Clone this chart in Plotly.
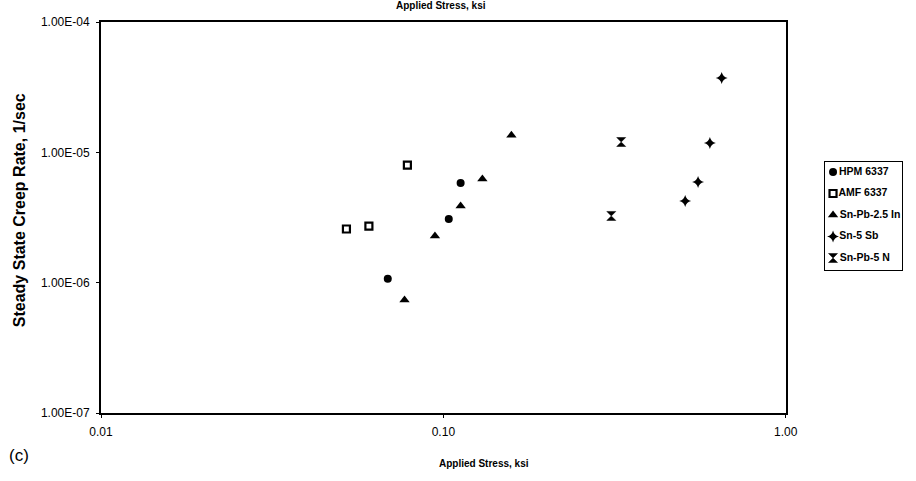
import plotly.graph_objects as go

# ---- data -------------------------------------------------------------
series_names = ["HPM 6337", "AMF 6337", "Sn-Pb-2.5 In", "Sn-5 Sb", "Sn-Pb-5 N"]

hpm_stress = [0.0688, 0.1037, 0.1123]
hpm_rate = [1.07e-6, 3.08e-6, 5.82e-6]

amf_stress = [0.0521, 0.0606, 0.0785]
amf_rate = [2.58e-6, 2.72e-6, 7.99e-6]

snpb25in_stress = [0.0770, 0.0945, 0.1123, 0.130, 0.158]
snpb25in_rate = [7.36e-7, 2.28e-6, 3.88e-6, 6.24e-6, 1.35e-5]

sn5sb_stress = [0.5085, 0.5545, 0.6004, 0.650]
sn5sb_rate = [4.23e-6, 5.92e-6, 1.18e-5, 3.72e-5]

snpb5n_stress = [0.3094, 0.3307]
snpb5n_rate = [3.25e-6, 1.20e-5]

x_tickvals = [0.01, 0.1, 1.0]
x_ticktext = ["0.01", "0.10", "1.00"]
y_tickvals = [1e-4, 1e-5, 1e-6, 1e-7]
y_ticktext = ["1.00E-04", "1.00E-05", "1.00E-06", "1.00E-07"]

# ---- layout geometry (pixels) ----------------------------------------
W, H = 916, 481
ML, MR, MT, MB = 101, 2, 22, 68
PW = W - ML - MR          # paper width
PH = H - MT - MB          # paper height
PLOT_RIGHT = 796          # right edge of the data frame


def px_x(px):
    return (px - ML) / PW


def px_y(py):
    return (H - MB - py) / PH


FONT = "Liberation Sans, Arial, sans-serif"
BLACK = "#000000"

styles = [
    dict(symbol="circle", size=8, color=BLACK),
    dict(symbol="square-open", size=7, color=BLACK, line=dict(width=2.2, color=BLACK)),
    dict(symbol="triangle-up", size=9, color=BLACK),
    dict(symbol="star-diamond", size=8.5, color=BLACK),
    dict(symbol="hourglass", size=9, color=BLACK, line=dict(width=0.5, color=BLACK)),
]

series = [
    (hpm_stress, hpm_rate),
    (amf_stress, amf_rate),
    (snpb25in_stress, snpb25in_rate),
    (sn5sb_stress, sn5sb_rate),
    (snpb5n_stress, snpb5n_rate),
]

fig = go.Figure()

for name, (xs, ys), st in zip(series_names, series, styles):
    fig.add_trace(go.Scatter(
        x=xs, y=ys, mode="markers", name=name,
        marker=st, showlegend=False, cliponaxis=False,
        xaxis="x", yaxis="y",
    ))

# boxed key drawn on its own small axes
for i, (name, st) in enumerate(zip(series_names, styles)):
    fig.add_trace(go.Scatter(
        x=[8], y=[i], mode="markers+text", text=[name],
        textposition="middle right",
        textfont=dict(family=FONT, size=10.5, color=BLACK, weight="bold"),
        marker=st, showlegend=False, hoverinfo="skip",
        xaxis="x2", yaxis="y2", cliponaxis=False,
    ))

axis_common = dict(
    showline=True, linecolor=BLACK, linewidth=2, mirror=True,
    showgrid=False, zeroline=False, ticks="outside", ticklen=3,
    tickcolor=BLACK, tickfont=dict(family=FONT, size=12, color=BLACK),
)

legend_top, legend_bottom = 162, 270
row0, row_gap = 172, 21.5

fig.update_layout(
    width=W, height=H,
    margin=dict(l=ML, r=MR, t=MT, b=MB, pad=0),
    paper_bgcolor="white", plot_bgcolor="white",
    xaxis=dict(type="log", range=[-2, 0], domain=[0, px_x(PLOT_RIGHT)],
               tickvals=x_tickvals, ticktext=x_ticktext,
               ticklabelstandoff=4, anchor="y", **axis_common),
    yaxis=dict(type="log", range=[-7, -4], domain=[0, 1],
               tickvals=y_tickvals, ticktext=y_ticktext,
               ticklabelstandoff=4, anchor="x", **axis_common),
    xaxis2=dict(domain=[px_x(836), px_x(914)], range=[0, 78],
                anchor="y2", showline=True, mirror=True, linecolor=BLACK,
                linewidth=1, showgrid=False, zeroline=False,
                showticklabels=False, ticks=""),
    yaxis2=dict(domain=[px_y(legend_bottom), px_y(legend_top)],
                range=[(legend_bottom - row0) / row_gap,
                       (legend_top - row0) / row_gap],
                anchor="x2", showline=True, mirror=True, linecolor=BLACK,
                linewidth=1, showgrid=False, zeroline=False,
                showticklabels=False, ticks=""),
    showlegend=False,
)

title_font = dict(family=FONT, size=10, color=BLACK, weight="bold")
fig.add_annotation(text="Applied Stress, ksi", xref="paper", yref="paper",
                   x=px_x(446), y=px_y(5), showarrow=False,
                   xanchor="center", yanchor="middle", font=title_font)
fig.add_annotation(text="Applied Stress, ksi", xref="paper", yref="paper",
                   x=px_x(490), y=px_y(464), showarrow=False,
                   xanchor="center", yanchor="middle", font=title_font)
fig.add_annotation(text="Steady State Creep Rate, 1/sec", xref="paper",
                   yref="paper", x=px_x(19), y=px_y(210), showarrow=False,
                   textangle=-90, xanchor="center", yanchor="middle",
                   font=dict(family=FONT, size=16, color=BLACK, weight="bold"))
fig.add_annotation(text="(c)", xref="paper", yref="paper",
                   x=px_x(18), y=px_y(455), showarrow=False,
                   xanchor="center", yanchor="middle",
                   font=dict(family=FONT, size=17, color=BLACK))

fig.write_html("out.html")
